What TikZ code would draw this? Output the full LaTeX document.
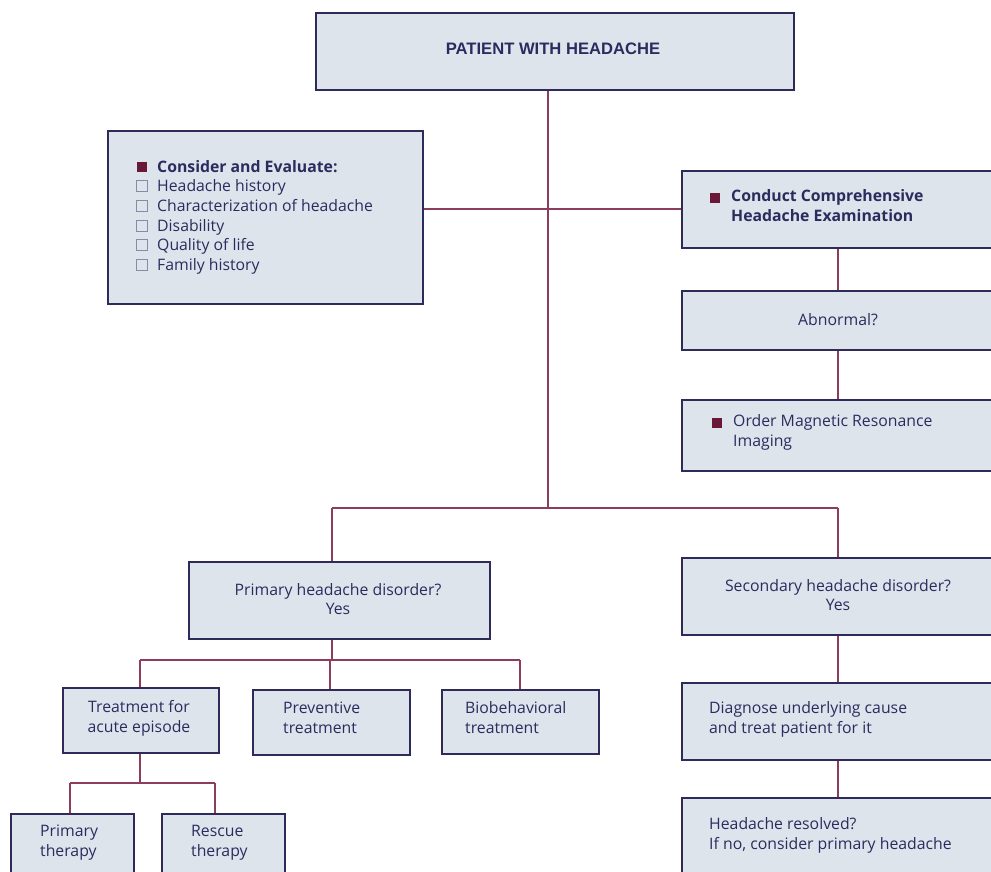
\documentclass[tikz,border=0pt]{standalone}
\usepackage{fontspec}
\setmainfont{Open Sans}
\newfontfamily\titlefont{Liberation Sans}
\definecolor{boxfill}{HTML}{DDE4EC}
\definecolor{boxline}{HTML}{2E2A5A}
\definecolor{linkcol}{HTML}{8C3D5E}
\definecolor{txt}{HTML}{2D2B5E}
\definecolor{bul}{HTML}{6A1838}
\definecolor{chk}{HTML}{8A8AA8}
\tikzset{
  box/.style={draw=boxline, fill=boxfill, line width=2.4pt, inner sep=0pt},
  link/.style={draw=linkcol, line width=2pt},
  lbl/.style={text=txt, font=\fontsize{15.8}{19.8}\selectfont, inner sep=0pt, align=center},
  lbll/.style={lbl, align=left},
  bullet/.style={fill=bul, minimum size=10.5pt, inner sep=0pt},
  checkb/.style={draw=chk, line width=0.9pt, minimum size=10.5pt, inner sep=0pt},
}
\begin{document}
\begin{tikzpicture}[x=1pt,y=-1pt]
\useasboundingbox (0,0) rectangle (991,871);
\clip (0,0) rectangle (991,871);
% boxes
\node[box, anchor=north west, minimum width=478pt, minimum height=77pt] (top) at (315,12) {};
\node[box, anchor=north west, minimum width=315pt, minimum height=173pt] (left) at (107,130) {};
\node[box, anchor=north west, minimum width=320pt, minimum height=77pt] (conduct) at (681,170) {};
\node[box, anchor=north west, minimum width=320pt, minimum height=59pt] (abn) at (681,290) {};
\node[box, anchor=north west, minimum width=320pt, minimum height=71pt] (mri) at (681,399) {};
\node[box, anchor=north west, minimum width=301pt, minimum height=77pt] (prim) at (188,561) {};
\node[box, anchor=north west, minimum width=320pt, minimum height=77pt] (sec) at (681,557) {};
\node[box, anchor=north west, minimum width=156pt, minimum height=65pt] (acute) at (62,687) {};
\node[box, anchor=north west, minimum width=157pt, minimum height=65pt] (prev) at (252,689) {};
\node[box, anchor=north west, minimum width=157pt, minimum height=64pt] (bio) at (441,689) {};
\node[box, anchor=north west, minimum width=320pt, minimum height=77pt] (diag) at (681,682) {};
\node[box, anchor=north west, minimum width=123pt, minimum height=80pt] (pth) at (10,813) {};
\node[box, anchor=north west, minimum width=123pt, minimum height=80pt] (rth) at (161,813) {};
\node[box, anchor=north west, minimum width=320pt, minimum height=80pt] (res) at (681,797) {};
% connectors
\coordinate (trunk) at (548,508);
\coordinate (hl) at (548,209);
\coordinate (bl) at (332,508);
\coordinate (br) at (838,508);
\coordinate (pj) at (332,660);
\coordinate (pl) at (140,660);
\coordinate (pm) at (330,660);
\coordinate (pr) at (520,660);
\coordinate (aj) at (140,783);
\coordinate (al) at (70,783);
\coordinate (ar) at (215,783);
\coordinate (rx) at (838,0);
\draw[link] (top.south -| trunk) -- (trunk);
\draw[link] (left.east |- hl) -- (conduct.west |- hl);
\draw[link] (conduct.south -| rx) -- (abn.north -| rx);
\draw[link] (abn.south -| rx) -- (mri.north -| rx);
\draw[link] (bl) -- (br);
\draw[link] (bl) -- (prim.north -| bl);
\draw[link] (br) -- (sec.north -| br);
\draw[link] (sec.south -| rx) -- (diag.north -| rx);
\draw[link] (diag.south -| rx) -- (res.north -| rx);
\draw[link] (prim.south -| pj) -- (pj);
\draw[link] (pl) -- (pr);
\draw[link] (pl) -- (acute.north -| pl);
\draw[link] (pm) -- (prev.north -| pm);
\draw[link] (pr) -- (bio.north -| pr);
\draw[link] (acute.south -| aj) -- (aj);
\draw[link] (al) -- (ar);
\draw[link] (al) -- (pth.north -| al);
\draw[link] (ar) -- (rth.north -| ar);
% texts
\node[text=txt, inner sep=0pt, font=\titlefont\bfseries\fontsize{16.6}{18}\selectfont] (ttop) at (553,49) {PATIENT WITH HEADACHE};
\node[bullet] (b1) at (142,167) {};
\node[lbll, anchor=base west, font=\bfseries\fontsize{15.8}{19.8}\selectfont] (t1) at (157,172.5) {Consider and Evaluate:};
\node[checkb] (c1) at (142,186) {};
\node[lbll, anchor=base west] (t2) at (157,191.5) {Headache history};
\node[checkb] (c2) at (142,206) {};
\node[lbll, anchor=base west] (t3) at (157,211.5) {Characterization of headache};
\node[checkb] (c3) at (142,226) {};
\node[lbll, anchor=base west] (t4) at (157,231.5) {Disability};
\node[checkb] (c4) at (142,245) {};
\node[lbll, anchor=base west] (t5) at (157,250.5) {Quality of life};
\node[checkb] (c5) at (142,265) {};
\node[lbll, anchor=base west] (t6) at (157,270.5) {Family history};
\node[bullet] (b2) at (715,198) {};
\node[lbll, anchor=north west, font=\bfseries\fontsize{15.8}{19.8}\selectfont] (tcond) at (731,189) {Conduct Comprehensive\\Headache Examination};
\node[lbl] (tabn) at (838,320) {Abnormal?};
\node[bullet] (b3) at (717,423) {};
\node[lbll, anchor=north west] (tmri) at (733,414) {Order Magnetic Resonance\\Imaging};
\node[lbl] (tprim) at (338,599) {Primary headache disorder?\\Yes};
\node[lbl] (tsec) at (838,595) {Secondary headache disorder?\\Yes};
\node[lbl] (tacute) at (139,718) {Treatment for\\acute episode};
\node[lbll, anchor=north west] (tprev) at (283,702) {Preventive\\treatment};
\node[lbll, anchor=north west] (tbio) at (465,701) {Biobehavioral\\treatment};
\node[lbll, anchor=north west] (tdiag) at (709,701) {Diagnose underlying cause\\and treat patient for it};
\node[lbll, anchor=north west] (tpth) at (40,825) {Primary\\therapy};
\node[lbll, anchor=north west] (trth) at (191,825) {Rescue\\therapy};
\node[lbll, anchor=north west] (tres) at (709,817) {Headache resolved?\\If no, consider primary headache};
\end{tikzpicture}
\end{document}
